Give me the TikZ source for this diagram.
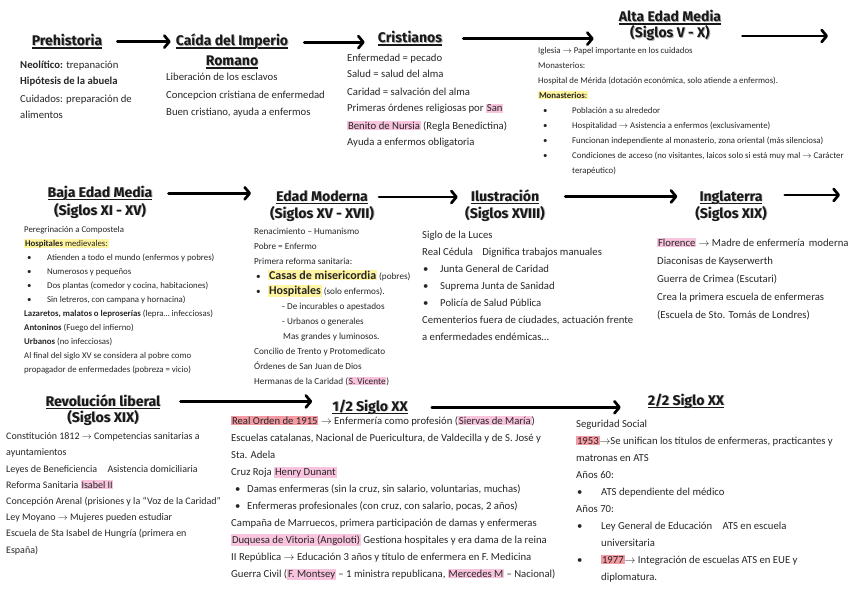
\documentclass[tikz,border=0pt]{standalone}
\usepackage{fontspec}
\setmainfont{Carlito}
\newfontfamily\titf{Fira Sans}
\usetikzlibrary{arrows.meta}
\definecolor{amar}{HTML}{FFF4A0}
\definecolor{rosa}{HTML}{F8C4DE}
\definecolor{salm}{HTML}{F39BA3}
\newcommand\hly[1]{{\setlength\fboxsep{0.8pt}\colorbox{amar}{#1}}}
\newcommand\hlr[1]{{\setlength\fboxsep{0.8pt}\colorbox{rosa}{#1}}}
\newcommand\hls[1]{{\setlength\fboxsep{0.8pt}\colorbox{salm}{#1}}}
\newcommand\bul[1]{\makebox[#1][l]{\textbullet}}
\newcommand\flch{$\rightarrow$}
\newcommand\somb[1]{\rlap{\textcolor{black!30}{\kern0.9pt\raisebox{-0.9pt}{#1}}}#1}
\newcommand\subr[1]{\setbox0\hbox{#1}\rlap{\rule[-2.6pt]{\wd0}{1.1pt}}\somb{#1}}
\begin{document}
\begin{tikzpicture}[x=1pt,y=-1pt,line cap=round,
  tit/.style={font=\titf\bfseries\fontsize{14}{16}\selectfont,inner sep=0pt,anchor=base,text=black!90},
  txt/.style={font=\fontsize{10.7}{17}\selectfont,align=left,anchor=base west,inner sep=0pt,text=black!85},
  chico/.style={txt,font=\fontsize{8.8}{15}\selectfont},
  flecha/.style={line width=2.7pt,-{Straight Barb[round,length=5pt,width=12pt]}}]
\useasboundingbox (0,0) rectangle (848,599);
\node[tit] (pre) at (67,46) {\subr{Prehistoria}};
\node[tit] (cai) at (232,46) {\subr{Caída del Imperio}}; \node[tit] (cai2) at (232,66) {\subr{Romano}};
\node[tit] (cris) at (410,43) {\subr{Cristianos}};
\node[tit] (alta) at (670,22) {\subr{Alta Edad Media}}; \node[tit] (alta2) at (670,38) {\somb{(Siglos V - X)}};
\node[tit] (baja) at (100,197) {\subr{Baja Edad Media}}; \node[tit] (baja2) at (100,215) {\somb{(Siglos XI - XV)}};
\node[tit] (mod) at (322,201) {\subr{Edad Moderna}}; \node[tit] (mod2) at (322,218) {\somb{(Siglos XV - XVII)}};
\node[tit] (ilu) at (505,201) {\subr{Ilustración}}; \node[tit] (ilu2) at (505,218) {\somb{(Siglos XVIII)}};
\node[tit] (ing) at (731,201) {\subr{Inglaterra}}; \node[tit] (ing2) at (731,218) {\somb{(Siglos XIX)}};
\node[tit] (rev) at (103,406) {\subr{Revolución liberal}}; \node[tit] (rev2) at (103,422) {\somb{(Siglos XIX)}};
\node[tit] (med1) at (370,411) {\subr{1/2 Siglo XX}};
\node[tit] (med2) at (686,405) {\subr{2/2 Siglo XX}};
\coordinate (fin1) at (828,36); \coordinate (fin2) at (840,195);
\draw[flecha] ([xshift=15pt]pre.east) -- ([xshift=-5pt]cai.west |- pre.east);
\draw[flecha] ([xshift=16pt]cai.east) -- ([xshift=-13pt]cris.west |- cai.east);
\draw[flecha] ([xshift=21pt]cris.east) -- ([xshift=-25pt]alta.west |- cris.east);
\draw[flecha] ([xshift=21pt]alta.east |- fin1) -- (fin1);
\draw[flecha] ([xshift=16pt]baja.east) -- ([xshift=-25pt]mod.west |- baja.east);
\draw[flecha] ([xshift=11pt]mod.east) -- ([xshift=-13pt]ilu.west |- mod.east);
\draw[flecha] ([xshift=26pt]ilu.east) -- ([xshift=-22pt]ing.west |- ilu.east);
\draw[flecha] ([xshift=22pt]ing.east |- fin2) -- (fin2);
\draw[flecha] ([xshift=20pt]rev.east) -- ([xshift=-20pt]med1.west |- rev.east);
\draw[flecha] ([xshift=24pt]med1.east) -- ([xshift=-27pt]med2.west |- med1.east);
\node[txt] (tpre) at (20,119) {\textbf{Neolítico:} trepanación\\ \textbf{Hipótesis de la abuela}\\ Cuidados: preparación de\\ alimentos};
\node[txt,font=\fontsize{10.7}{17.5}\selectfont] (tcai) at (166,116) {Liberación de los esclavos\\ Concepcion cristiana de enfermedad\\ Buen cristiano, ayuda a enfermos};
\node[txt] (tcris) at (347,146) {Enfermedad = pecado\\ Salud = salud del alma\\ Caridad = salvación del alma\\ Primeras órdenes religiosas por \hlr{San}\\ \hlr{Benito de Nursia} (Regla Benedictina)\\ Ayuda a enfermos obligatoria};
\node[chico] (talta) at (538,173) {Iglesia \flch{} Papel importante en los cuidados\\ Monasterios:\\ Hospital de Mérida (dotación económica, solo atiende a enfermos).\\ \hly{\textbf{Monasterios}:}\\
  \hspace*{5pt}\bul{29pt}Población a su alrededor\\ \hspace*{5pt}\bul{29pt}Hospitalidad \flch{} Asistencia a enfermos (exclusivamente)\\
  \hspace*{5pt}\bul{29pt}Funcionan independiente al monasterio, zona oriental (más silenciosa)\\
  \hspace*{5pt}\bul{29pt}Condiciones de acceso (no visitantes, laicos solo si está muy mal \flch{} Carácter\\ \hspace*{34pt}terapéutico)};
\node[chico,font=\fontsize{8.8}{14}\selectfont] (tbaja) at (24,372) {Peregrinación a Compostela\\ \hly{\textbf{Hospitales} medievales:}\\
  \hspace*{3pt}\bul{20pt}Atienden a todo el mundo (enfermos y pobres)\\ \hspace*{3pt}\bul{20pt}Numerosos y pequeños\\
  \hspace*{3pt}\bul{20pt}Dos plantas (comedor y cocina, habitaciones)\\ \hspace*{3pt}\bul{20pt}Sin letreros, con campana y hornacina)\\
  \textbf{Lazaretos, malatos o leproserías} (lepra… infecciosas)\\ \textbf{Antoninos} (Fuego del infierno)\\ \textbf{Urbanos} (no infecciosas)\\
  Al final del siglo XV se considera al pobre como\\ propagador de enfermedades (pobreza = vicio)};
\node[chico,font=\fontsize{9.2}{15}\selectfont] (tmod) at (254,384) {Renacimiento – Humanismo\\ Pobre = Enfermo\\ Primera reforma sanitaria:\\
  \hspace*{2pt}\bul{12pt}\hly{\textbf{\large Casas de misericordia}} (pobres)\\ \hspace*{2pt}\bul{12pt}\hly{\textbf{\large Hospitales}} (solo enfermos).\\
  \hspace*{28pt}- De incurables o apestados\\ \hspace*{28pt}- Urbanos o generales\\ \hspace*{29pt}Mas grandes y luminosos.\\
  Concilio de Trento y Protomedicato\\ Órdenes de San Juan de Dios\\ Hermanas de la Caridad (\hlr{S. Vicente})};
\node[txt] (tilu) at (422,340) {Siglo de la Luces\\ Real Cédula\hspace{7pt} Dignifica trabajos manuales\\
  \hspace*{1pt}\bul{17pt}Junta General de Caridad\\ \hspace*{1pt}\bul{17pt}Suprema Junta de Sanidad\\ \hspace*{1pt}\bul{17pt}Policía de Salud Pública\\
  Cementerios fuera de ciudades, actuación frente\\ a enfermedades endémicas…};
\node[txt,font=\fontsize{10.7}{18}\selectfont] (ting) at (657,318) {\hlr{Florence} \flch{} Madre de enfermería\, moderna\\ Diaconisas de Kayserwerth\\ Guerra de Crimea (Escutari)\\ Crea la primera escuela de enfermeras\\ (Escuela de Sto. Tomás de Londres)};
\node[txt,font=\fontsize{10}{16.2}\selectfont] (trev) at (6,553) {Constitución 1812 \flch{} Competencias sanitarias a\\ ayuntamientos\\ Leyes de Beneficiencia\hspace{8pt} Asistencia domiciliaria\\
  Reforma Sanitaria \hlr{Isabel II}\\ Concepción Arenal (prisiones y la “Voz de la Caridad”\\ Ley Moyano \flch{} Mujeres pueden estudiar\\
  Escuela de Sta Isabel de Hungría (primera en\\ España)};
\node[txt] (tmed1) at (231,577) {\hls{Real Orden de 1915} \flch{} Enfermería como profesión (\hlr{Siervas de María})\\
  Escuelas catalanas, Nacional de Puericultura, de Valdecilla y de S. José y\\ Sta. Adela\\ Cruz Roja \hlr{Henry Dunant}\\
  \hspace*{4pt}\bul{12pt}Damas enfermeras (sin la cruz, sin salario, voluntarias, muchas)\\ \hspace*{4pt}\bul{12pt}Enfermeras profesionales (con cruz, con salario, pocas, 2 años)\\
  Campaña de Marruecos, primera participación de damas y enfermeras\\ \hlr{Duquesa de Vitoria (Angoloti)} Gestiona hospitales y era dama de la reina\\
  II República \flch{} Educación 3 años y título de enfermera en F. Medicina\\ Guerra Civil (\hlr{F. Montsey} – 1 ministra republicana, \hlr{Mercedes M} – Nacional)};
\node[txt] (tmed2) at (576,580) {Seguridad Social\\ \hls{1953}\flch{}Se unifican los títulos de enfermeras, practicantes y\\ matronas en ATS\\ Años 60:\\
  \hspace*{1pt}\bul{24pt}ATS dependiente del médico\\ Años 70:\\ \hspace*{1pt}\bul{24pt}Ley General de Educación\hspace{8pt} ATS en escuela\\ \hspace*{25pt}universitaria\\
  \hspace*{1pt}\bul{24pt}\hls{1977}\flch{} Integración de escuelas ATS en EUE y\\ \hspace*{25pt}diplomatura.};
\end{tikzpicture}
\end{document}
